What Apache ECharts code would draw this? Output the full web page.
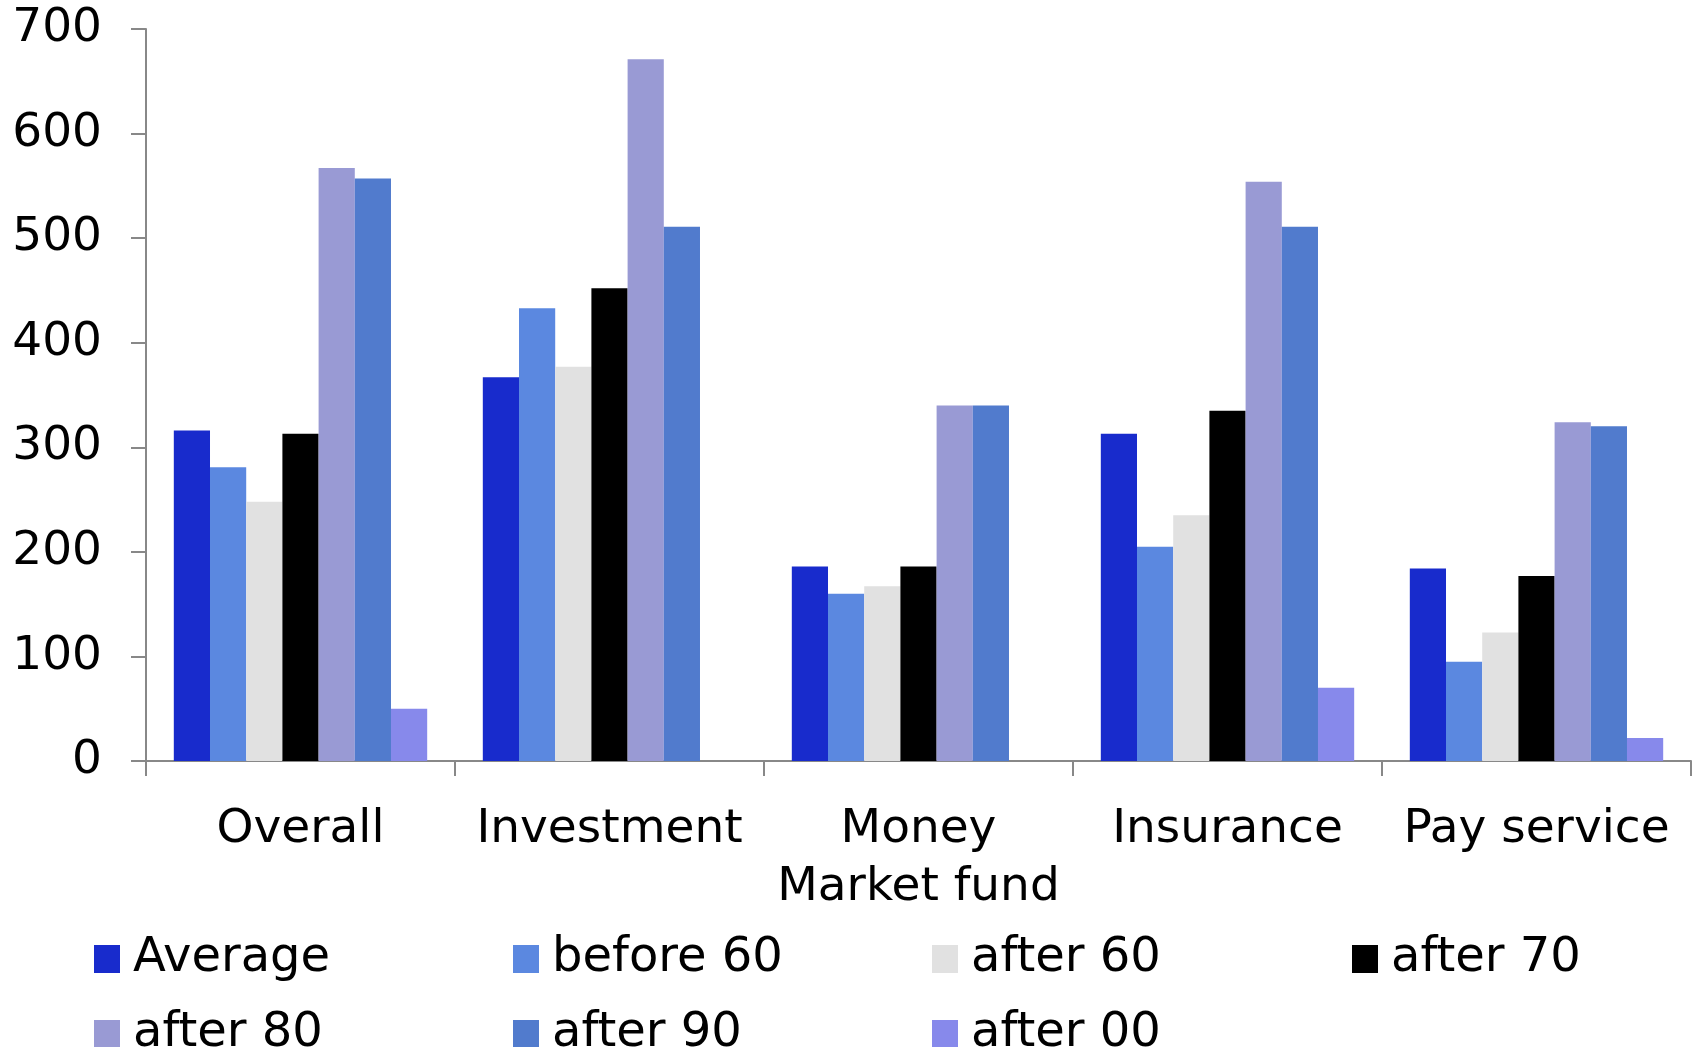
<!DOCTYPE html>
<html>
<head>
<meta charset="utf-8">
<script src="https://cdn.jsdelivr.net/npm/echarts@6/dist/echarts.min.js"></script>
<style>
  html, body { margin: 0; padding: 0; background: #fff; }
  #chart { width: 1700px; height: 1047px; }
</style>
</head>
<body>
<div id="chart"></div>
<script>
  // categories along the x axis
  var categories = ['Overall', 'Investment', 'Money\nMarket fund', 'Insurance', 'Pay service'];

  // one array per age group, in category order
  var average  = [316, 367, 186, 313, 184];
  var before60 = [281, 433, 160, 205, 95];
  var after60  = [248, 377, 167, 235, 123];
  var after70  = [313, 452, 186, 335, 177];
  var after80  = [567, 671, 340, 554, 324];
  var after90  = [557, 511, 340, 511, 320];
  var after00  = [50, null, null, 70, 22];

  var seriesNames = ['Average', 'before 60', 'after 60', 'after 70', 'after 80', 'after 90', 'after 00'];
  var seriesData = [average, before60, after60, after70, after80, after90, after00];
  var colors = ['#182bcc', '#5b88e0', '#e1e1e1', '#000000', '#999ad4', '#517bcd', '#8789eb'];

  var yTicks = [0, 100, 200, 300, 400, 500, 600, 700];

  var font = 'DejaVu Sans';

  var chart = echarts.init(document.getElementById('chart'));

  // legend laid out as a 4-column grid, one legend component per item
  var legendPos = [
    [94, 935], [513, 935], [932, 935], [1352, 935],
    [94, 1010], [513, 1010], [932, 1010]
  ];
  var legends = seriesNames.map(function (name, i) {
    return {
      data: [name],
      left: legendPos[i][0],
      top: legendPos[i][1],
      itemWidth: 26,
      itemHeight: 28,
      itemGap: 0,
      icon: 'rect',
      padding: 0,
      textStyle: { fontFamily: font, fontSize: 48, color: '#000', padding: [0, 0, 0, 8] }
    }
  })

  var option = {
    animation: false,
    color: colors,
    legend: legends,
    grid: { left: 146, right: 9, top: 29, bottom: 286, containLabel: false },
    xAxis: {
      type: 'category',
      data: categories,
      axisLine: { lineStyle: { color: '#888', width: 2 } },
      axisTick: { show: true, length: 15, lineStyle: { color: '#888', width: 2 } },
      axisLabel: {
        fontFamily: font, fontSize: 47, color: '#000',
        margin: 40, lineHeight: 58, interval: 0
      },
      splitLine: { show: false }
    },
    yAxis: {
      type: 'value',
      min: yTicks[0],
      max: yTicks[yTicks.length - 1],
      interval: 100,
      axisLine: { show: true, lineStyle: { color: '#888', width: 2 } },
      axisTick: { show: true, length: 15, lineStyle: { color: '#888', width: 2 } },
      axisLabel: { fontFamily: font, fontSize: 47, color: '#000', margin: 44 },
      splitLine: { show: false }
    },
    series: seriesData.map(function (d, i) {
      return {
        name: seriesNames[i],
        type: 'bar',
        data: d,
        barGap: '0%',
        barCategoryGap: '18%',
        itemStyle: { color: colors[i] }
      }
    })
  };

  chart.setOption(option);
</script>
</body>
</html>
